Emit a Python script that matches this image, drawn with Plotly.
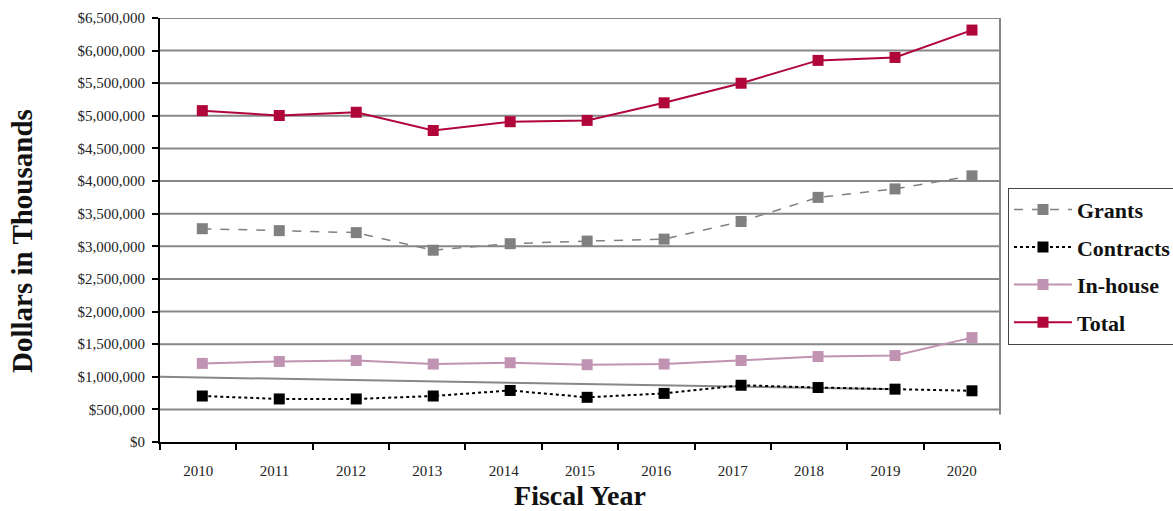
import plotly.graph_objects as go

years = ["2010", "2011", "2012", "2013", "2014", "2015", "2016", "2017", "2018", "2019", "2020"]
grants = [3270000, 3240000, 3210000, 2940000, 3040000, 3080000, 3110000, 3380000, 3750000, 3880000, 4080000]
contracts = [705000, 660000, 660000, 705000, 790000, 685000, 745000, 870000, 835000, 810000, 785000]
inhouse = [1205000, 1235000, 1250000, 1195000, 1215000, 1185000, 1195000, 1250000, 1310000, 1325000, 1600000]
total = [5080000, 5005000, 5055000, 4775000, 4910000, 4930000, 5200000, 5500000, 5850000, 5895000, 6315000]

y_ticks = [0, 500000, 1000000, 1500000, 2000000, 2500000, 3000000, 3500000, 4000000,
           4500000, 5000000, 5500000, 6000000, 6500000]
y_tick_labels = ["$0", "$500,000", "$1,000,000", "$1,500,000", "$2,000,000", "$2,500,000",
                 "$3,000,000", "$3,500,000", "$4,000,000", "$4,500,000", "$5,000,000",
                 "$5,500,000", "$6,000,000", "$6,500,000"]
grid_values = [v for v in y_ticks if v not in (0, 1000000)]
# skewed 1,000,000 gridline seen in the original (from left edge to 2019)
skew_x = [-0.55, 9]
skew_y = [1000000, 810000]

FONT = "Liberation Serif"
GRID = "#878787"

fig = go.Figure()

for v in grid_values:
    fig.add_shape(type="line", xref="paper", yref="y", x0=0, x1=1, y0=v, y1=v,
                  line=dict(color=GRID, width=2), layer="below")
fig.add_shape(type="line", xref="x2", yref="y", x0=skew_x[0], x1=skew_x[1], y0=skew_y[0], y1=skew_y[1],
              line=dict(color=GRID, width=2), layer="below")
fig.add_shape(type="line", xref="paper", yref="y", x0=1, x1=1, y0=420000, y1=6500000,
              line=dict(color=GRID, width=2), layer="below")

# invisible carrier trace so the labelled category axis is drawn
fig.add_trace(go.Scatter(x=years, y=total, mode="markers", marker=dict(opacity=0),
                         showlegend=False, hoverinfo="skip"))

series = [
    ("Grants", grants, "#808080", 1.5, "dash"),
    ("Contracts", contracts, "#000000", 2, "dot"),
    ("In-house", inhouse, "#c093b3", 2, "solid"),
    ("Total", total, "#b0063a", 2, "solid"),
]
for name, vals, color, w, dash in series:
    fig.add_trace(go.Scatter(x=years, y=vals, name=name, mode="lines+markers", legendgroup=name,
                             xaxis="x2",
                             line=dict(color=color, width=w, dash=dash),
                             marker=dict(symbol="square", size=11, color=color)))

fig.add_annotation(text="<b>Dollars in Thousands</b>", textangle=-90, xref="paper", yref="paper",
                   x=(22 - 160) / 840, y=(442 - 241) / 424, xanchor="center", yanchor="middle",
                   showarrow=False, font=dict(family=FONT, size=29, color="#111111"))

fig.update_layout(
    width=1173, height=511,
    margin=dict(l=160, r=173, t=18, b=69, autoexpand=False),
    paper_bgcolor="white", plot_bgcolor="white",
    font=dict(family=FONT, color="#222222", size=15),
    showlegend=True,
    legend=dict(x=1.0095, y=0.60, xanchor="left", yanchor="top",
                bordercolor="#444444", borderwidth=1,
                font=dict(family=FONT, size=22, color="#111111", weight="bold"),
                itemwidth=58, tracegroupgap=6),
    xaxis=dict(
        type="category", range=[-0.5, 10.5], automargin=False,
        categoryorder="array", categoryarray=years,
        showgrid=False, showline=True, linecolor="#000000", linewidth=2,
        ticks="outside", tickson="boundaries", ticklen=6, tickwidth=2, tickcolor="#000000",
        ticklabelstandoff=14,
        tickfont=dict(family=FONT, size=15, color="#222222"),
        title=dict(text="Fiscal Year", font=dict(family=FONT, size=28, color="#111111", weight="bold"),
                   standoff=14),
        zeroline=False,
    ),
    xaxis2=dict(
        type="category", overlaying="x", range=[-0.5496, 10.364], visible=False,
        categoryorder="array", categoryarray=years,
    ),
    yaxis=dict(
        range=[0, 6500000], automargin=False,
        tickvals=y_ticks, ticktext=y_tick_labels,
        showgrid=False, showline=True, linecolor="#000000", linewidth=2,
        ticks="outside", ticklen=6, tickwidth=2, tickcolor="#000000",
        ticklabelstandoff=4,
        tickfont=dict(family=FONT, size=15, color="#222222"),
        zeroline=False,
    ),
)

fig.write_html(
    "out.html",
    config={"displayModeBar": False},
    post_script="document.body.style.margin='0';document.body.style.overflow='hidden';"
                "document.documentElement.style.overflow='hidden';",
)
